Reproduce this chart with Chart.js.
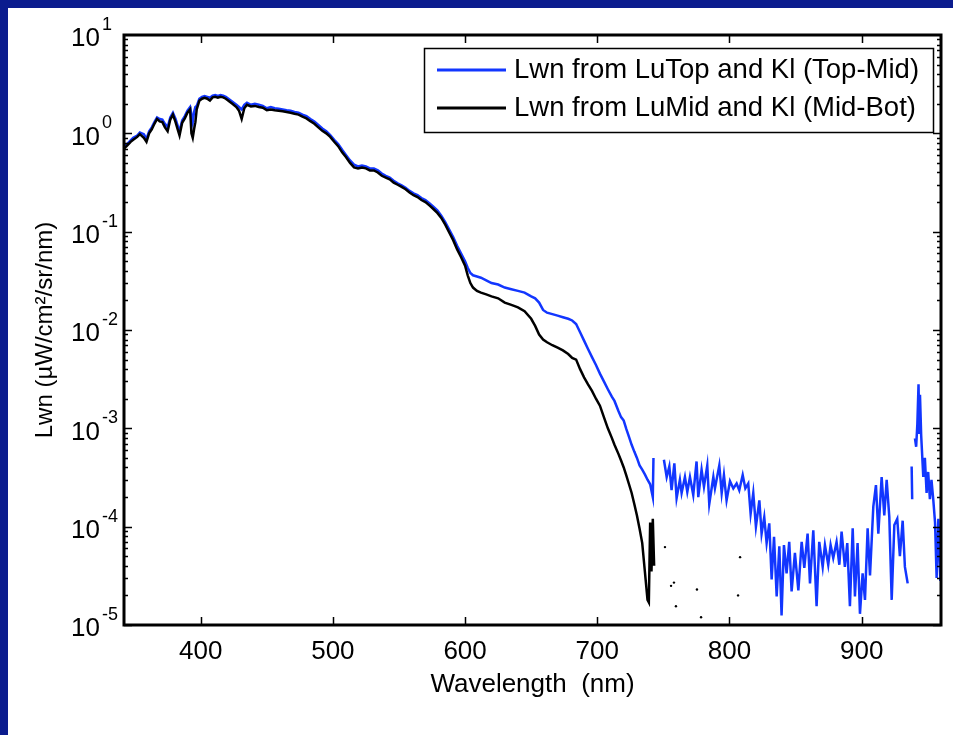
<!DOCTYPE html>
<html>
<head>
<meta charset="utf-8">
<script src="https://cdn.jsdelivr.net/npm/chart.js@4/dist/chart.umd.min.js"></script>
<style>
  html, body { margin: 0; padding: 0; }
  body { width: 953px; height: 735px; background: #0b1c8e; position: relative; overflow: hidden; }
  #sheet { position: absolute; left: 8px; top: 8px; right: 0; bottom: 0; background: #fff; }
  #lwnChart { position: absolute; left: 0; top: 0; }
</style>
</head>
<body>
<div id="sheet"></div>
<canvas id="lwnChart" width="953" height="735"></canvas>
<script>
// wavelengths (nm) where both curves overlap
const wlMain = [342, 344, 347, 349, 352, 354, 357, 359, 361, 363, 365, 367, 369, 371, 373, 375, 377, 379, 381, 383,
  384, 386, 388, 390, 392, 393, 394, 395, 396, 397, 399, 401, 403, 405, 407, 409, 411, 413, 415, 417,
  419, 421, 424, 427, 429, 431, 433, 435, 438, 441, 444, 447, 450, 453, 456, 459, 462, 465, 468, 471,
  474, 477, 480, 483, 486, 489, 492, 495, 498, 501, 504, 507, 510, 513, 516, 519, 522, 525, 528, 531,
  534, 537, 540, 543, 546, 549, 552, 555, 558, 561, 564, 567, 570, 573, 576, 579, 582, 585, 588, 591,
  594, 597, 600, 602, 604, 606, 609, 612, 616, 620, 625, 630, 635, 640, 645, 650, 653, 656, 659, 662,
  666, 670, 674, 678, 681, 684, 687, 690, 693, 696, 699, 702, 705, 708, 711, 713, 716, 718, 720, 722,
  724, 726, 728, 730, 732, 734, 736, 738]

// Lwn from LuTop and Kl (Top-Mid)
const topMid = [0.74, 0.77, 0.85, 0.90, 0.95, 1.02, 0.98, 0.88, 1.05, 1.15, 1.30, 1.45, 1.40, 1.38, 1.25, 1.15, 1.45, 1.62, 1.40, 1.15,
  1.05, 1.35, 1.50, 1.70, 1.85, 1.55, 1.30, 1.65, 1.85, 1.90, 2.25, 2.35, 2.40, 2.35, 2.30, 2.42, 2.45, 2.40, 2.45, 2.42,
  2.35, 2.25, 2.10, 1.95, 1.85, 1.75, 1.95, 2.05, 1.95, 2.00, 1.95, 1.90, 1.80, 1.85, 1.80, 1.78, 1.75, 1.72, 1.70, 1.65,
  1.62, 1.55, 1.50, 1.40, 1.32, 1.22, 1.12, 1.05, 0.96, 0.86, 0.78, 0.68, 0.60, 0.53, 0.48, 0.46, 0.47, 0.46, 0.44, 0.44,
  0.42, 0.39, 0.37, 0.355, 0.33, 0.31, 0.295, 0.28, 0.26, 0.245, 0.235, 0.22, 0.21, 0.195, 0.18, 0.165, 0.145, 0.125, 0.105, 0.088,
  0.072, 0.060, 0.050, 0.043, 0.038, 0.036, 0.035, 0.034, 0.032, 0.030, 0.029, 0.027, 0.026, 0.025, 0.024, 0.022, 0.021, 0.019, 0.016, 0.015,
  0.0145, 0.014, 0.0135, 0.013, 0.0125, 0.0115, 0.0095, 0.0078, 0.0064, 0.0053, 0.0044, 0.0036, 0.0030, 0.0025, 0.0021, 0.0019, 0.0015, 0.0013, 0.0012, 0.00098,
  0.00082, 0.00068, 0.00058, 0.00050, 0.00042, 0.00038, 0.00034, 0.00030]

// Lwn from LuMid and Kl (Mid-Bot)
const midBot = [0.70, 0.74, 0.82, 0.86, 0.92, 0.98, 0.90, 0.82, 1.00, 1.10, 1.25, 1.40, 1.32, 1.30, 1.15, 1.05, 1.38, 1.55, 1.30, 1.05,
  0.95, 1.28, 1.42, 1.62, 1.75, 1.00, 0.90, 1.10, 1.30, 1.75, 2.15, 2.25, 2.30, 2.25, 2.15, 2.32, 2.35, 2.30, 2.35, 2.32,
  2.25, 2.15, 2.00, 1.85, 1.70, 1.40, 1.80, 1.95, 1.88, 1.90, 1.85, 1.82, 1.72, 1.75, 1.72, 1.70, 1.68, 1.65, 1.62, 1.58,
  1.55, 1.48, 1.42, 1.33, 1.25, 1.15, 1.06, 1.00, 0.92, 0.82, 0.74, 0.64, 0.57, 0.50, 0.45, 0.44, 0.45, 0.44, 0.42, 0.42,
  0.40, 0.37, 0.355, 0.34, 0.315, 0.30, 0.285, 0.27, 0.25, 0.235, 0.225, 0.21, 0.20, 0.185, 0.17, 0.155, 0.138, 0.118, 0.098, 0.082,
  0.066, 0.055, 0.045, 0.036, 0.030, 0.027, 0.025, 0.024, 0.023, 0.022, 0.021, 0.019, 0.018, 0.017, 0.0155, 0.013, 0.011, 0.0090, 0.0080, 0.0075,
  0.0070, 0.0066, 0.0062, 0.0057, 0.0052, 0.0050, 0.0040, 0.0033, 0.0028, 0.0024, 0.0020, 0.0017, 0.0013, 0.0010, 0.00080, 0.00068, 0.00055, 0.00047, 0.00040, 0.00033,
  0.00027, 0.00022, 0.00017, 0.00013, 0.000095, 0.000068, 0.000035, 0.000018]

// noisy end of the Top-Mid curve (null = gap)
const wlTopTail = [740, 742, 742.5, 743, 750.4, 752.5, 754.5, 756.2, 758.3, 760, 762.5, 763.8, 766.3, 768.1, 770.1, 772.6, 775.1, 776.4, 778.9, 780.7,
  783.2, 784.7, 787.8, 789, 792.3, 794.1, 795.8, 797.8, 800.4, 802.9, 805.4, 807.4, 810, 812, 814.2, 816, 818, 820, 822.6, 824.3,
  826.3, 828.1, 830.1, 831.9, 833.7, 835.7, 837.7, 839.4, 841.2, 843.2, 845.2, 847, 849.5, 852.1, 854.6, 856.6, 859.1, 860.9, 863.4, 865.9,
  867.9, 870.5, 872.2, 874.7, 876.5, 878.5, 881, 883.1, 884.8, 887.3, 889.1, 891.1, 893.2, 894.9, 896.9, 898.7, 900.7, 902.5, 904.5, 906.3,
  908.8, 910.8, 912.6, 915.1, 917.1, 918.9, 920.9, 922.7, 924.7, 926.9, 928.9, 931, 932.7, 934.8, 936, 937.8, 938.2, 939, 940.3, 941.2,
  942.1, 943, 943.6, 944.1, 945, 946.6, 947.8, 949.1, 950.3, 951.6, 952.8, 954.2, 955.5, 956.7, 958, 959.5]
const topTail = [0.00027, 0.00020, 0.00050, null, 0.00048, 0.00032, 0.00041, 0.000235, 0.00044, 0.000195, 0.00030, 0.00022, 0.00032, 0.000225, 0.00032, 0.00021, 0.00046, 0.00020, 0.00038, 0.000255,
  0.00042, 0.00017, 0.00032, 0.000245, 0.00042, 0.00022, 0.000335, 0.000185, 0.00029, 0.000245, 0.000275, 0.000235, 0.000335, 0.000245, 0.000275, 0.000135, 0.00022, 0.00010, 0.000185, 0.000085,
  0.000125, 0.000068, 0.000108, 0.000029, 0.000079, 0.0000195, 0.000063, 0.0000125, 0.000065, 0.0000335, 0.000070, 0.000022, 0.000054, 0.0000225, 0.000070, 0.000038, 0.000085, 0.0000265, 0.000092, 0.0000155,
  0.000070, 0.000039, 0.000065, 0.000041, 0.000065, 0.000048, 0.000070, 0.000041, 0.000089, 0.000039, 0.000068, 0.0000155, 0.000096, 0.0000195, 0.000068, 0.000013, 0.0000335, 0.000018, 0.000096, 0.000032,
  0.00016, 0.000265, 0.000085, 0.00032, 0.00013, 0.00030, 0.000125, 0.000018, 0.000104, 0.00012, 0.000050, 0.000115, 0.000039, 0.0000265, null, 0.00041, 0.00019, null, 0.00079, 0.00065,
  0.0011, 0.0028, 0.0009, 0.0022, 0.00085, 0.00032, 0.00050, 0.00022, 0.00036, 0.00019, 0.00030, 0.000185, 0.00011, 0.000030, 0.00012, 0.000028]

// end of the Mid-Bot curve
const wlMidTail = [738, 739, 740, 741, 742, 743]
const midTail = [0.000018, 0.000017, 0.00011, 0.000035, 0.00012, 0.000040]

// scattered single Mid-Bot points past the cut-off
const wlMidDots = [751.2, 755.8, 758, 759.5, 775.4, 778.5, 806.5, 808]
const midDots = [0.000062, 0.000025, 0.000027, 0.0000155, 0.000023, 0.000012, 0.00002, 0.000049]

const xTicks = [400, 500, 600, 700, 800, 900]
const yTicks = [1e-5, 1e-4, 1e-3, 1e-2, 1e-1, 1, 10]
const yTickExp = ['-5', '-4', '-3', '-2', '-1', '0', '1']

const xTitle = 'Wavelength  (nm)'
const yTitle = 'Lwn (\u00b5W/cm\u00b2/sr/nm)'

const toPoints = (xs, ys) => xs.map((x, i) => ({ x: x, y: ys[i] }))

const font = "'Liberation Sans', Arial, Helvetica, sans-serif"

const axesPlugin = {
  id: 'matlabAxes',
  afterDatasetsDraw(chart) {
    const ctx = chart.ctx
    const area = chart.chartArea
    const xs = chart.scales.x
    const ys = chart.scales.y
    ctx.save()
    ctx.strokeStyle = '#000'
    ctx.fillStyle = '#000'

    // ticks inside the box
    ctx.lineWidth = 1.5
    ctx.beginPath()
    xTicks.forEach(v => {
      const px = Math.round(xs.getPixelForValue(v)) + 0.5
      ctx.moveTo(px, area.bottom); ctx.lineTo(px, area.bottom - 8)
      ctx.moveTo(px, area.top); ctx.lineTo(px, area.top + 8)
    })
    for (let d = -5; d < 1; d++) {
      for (let m = 1; m < 10; m++) {
        const v = m * Math.pow(10, d)
        const py = Math.round(ys.getPixelForValue(v)) + 0.5
        const len = m === 1 ? 8 : 4
        ctx.moveTo(area.left, py); ctx.lineTo(area.left + len, py)
        ctx.moveTo(area.right, py); ctx.lineTo(area.right - len, py)
      }
    }
    ctx.stroke()

    // box
    ctx.lineWidth = 3
    ctx.strokeRect(area.left, area.top, area.right - area.left, area.bottom - area.top)

    // x tick labels
    ctx.font = '26px ' + font
    ctx.textAlign = 'center'
    ctx.textBaseline = 'top'
    xTicks.forEach(v => {
      ctx.fillText(String(v), xs.getPixelForValue(v), area.bottom + 14)
    })

    // y tick labels 10^n
    yTicks.forEach((v, i) => {
      const py = ys.getPixelForValue(v)
      ctx.font = '26px ' + font
      ctx.textAlign = 'right'
      ctx.textBaseline = 'middle'
      ctx.fillText('10', 100, py + 4)
      ctx.font = '18px ' + font
      ctx.textAlign = 'left'
      ctx.fillText(yTickExp[i], 102, py - 10)
    })

    // axis titles
    ctx.font = '26px ' + font
    ctx.textAlign = 'center'
    ctx.textBaseline = 'top'
    ctx.fillText(xTitle, (area.left + area.right) / 2, area.bottom + 47)
    ctx.save()
    ctx.translate(45, (area.top + area.bottom) / 2)
    ctx.rotate(-Math.PI / 2)
    ctx.font = '24px ' + font
    ctx.textBaseline = 'middle'
    ctx.fillText(yTitle, 0, 0)
    ctx.restore()

    // legend box
    const items = chart.data.datasets.filter(ds => ds.label)
    ctx.fillStyle = '#fff'
    ctx.fillRect(424, 48, 509, 84)
    ctx.lineWidth = 1.5
    ctx.strokeStyle = '#000'
    ctx.strokeRect(424.5, 48.5, 509, 84)
    ctx.font = '27.5px ' + font
    ctx.textAlign = 'left'
    ctx.textBaseline = 'middle'
    items.forEach((ds, i) => {
      const ly = 70 + i * 38
      ctx.strokeStyle = ds.borderColor
      ctx.lineWidth = 3
      ctx.beginPath()
      ctx.moveTo(437, ly); ctx.lineTo(506, ly)
      ctx.stroke()
      ctx.fillStyle = '#000'
      ctx.fillText(ds.label, 514, ly)
    })
    ctx.restore()
  }
}

new Chart(document.getElementById('lwnChart'), {
  type: 'line',
  data: {
    datasets: [
      {
        label: 'Lwn from LuTop and Kl (Top-Mid)',
        data: toPoints(wlMain, topMid).concat(toPoints(wlTopTail, topTail)),
        borderColor: '#1236ff',
        borderWidth: 2.5,
        pointRadius: 0,
        order: 3
      },
      {
        label: 'Lwn from LuMid and Kl (Mid-Bot)',
        data: toPoints(wlMain, midBot).concat(toPoints(wlMidTail, midTail)),
        borderColor: '#000',
        borderWidth: 2.5,
        pointRadius: 0,
        order: 2
      },
      {
        data: toPoints(wlMidDots, midDots),
        showLine: false,
        pointRadius: 1.2,
        pointBorderWidth: 0,
        pointBackgroundColor: '#000',
        borderColor: '#000',
        order: 1
      }
    ]
  },
  options: {
    responsive: false,
    animation: false,
    devicePixelRatio: 1,
    spanGaps: false,
    layout: { padding: { left: 124, top: 35, right: 12, bottom: 110 } },
    elements: { line: { tension: 0 } },
    plugins: { legend: { display: false }, tooltip: { enabled: false } },
    scales: {
      x: { type: 'linear', min: 342, max: 960, display: false },
      y: { type: 'logarithmic', min: 1e-5, max: 10, display: false }
    }
  },
  plugins: [axesPlugin]
})
</script>
</body>
</html>
